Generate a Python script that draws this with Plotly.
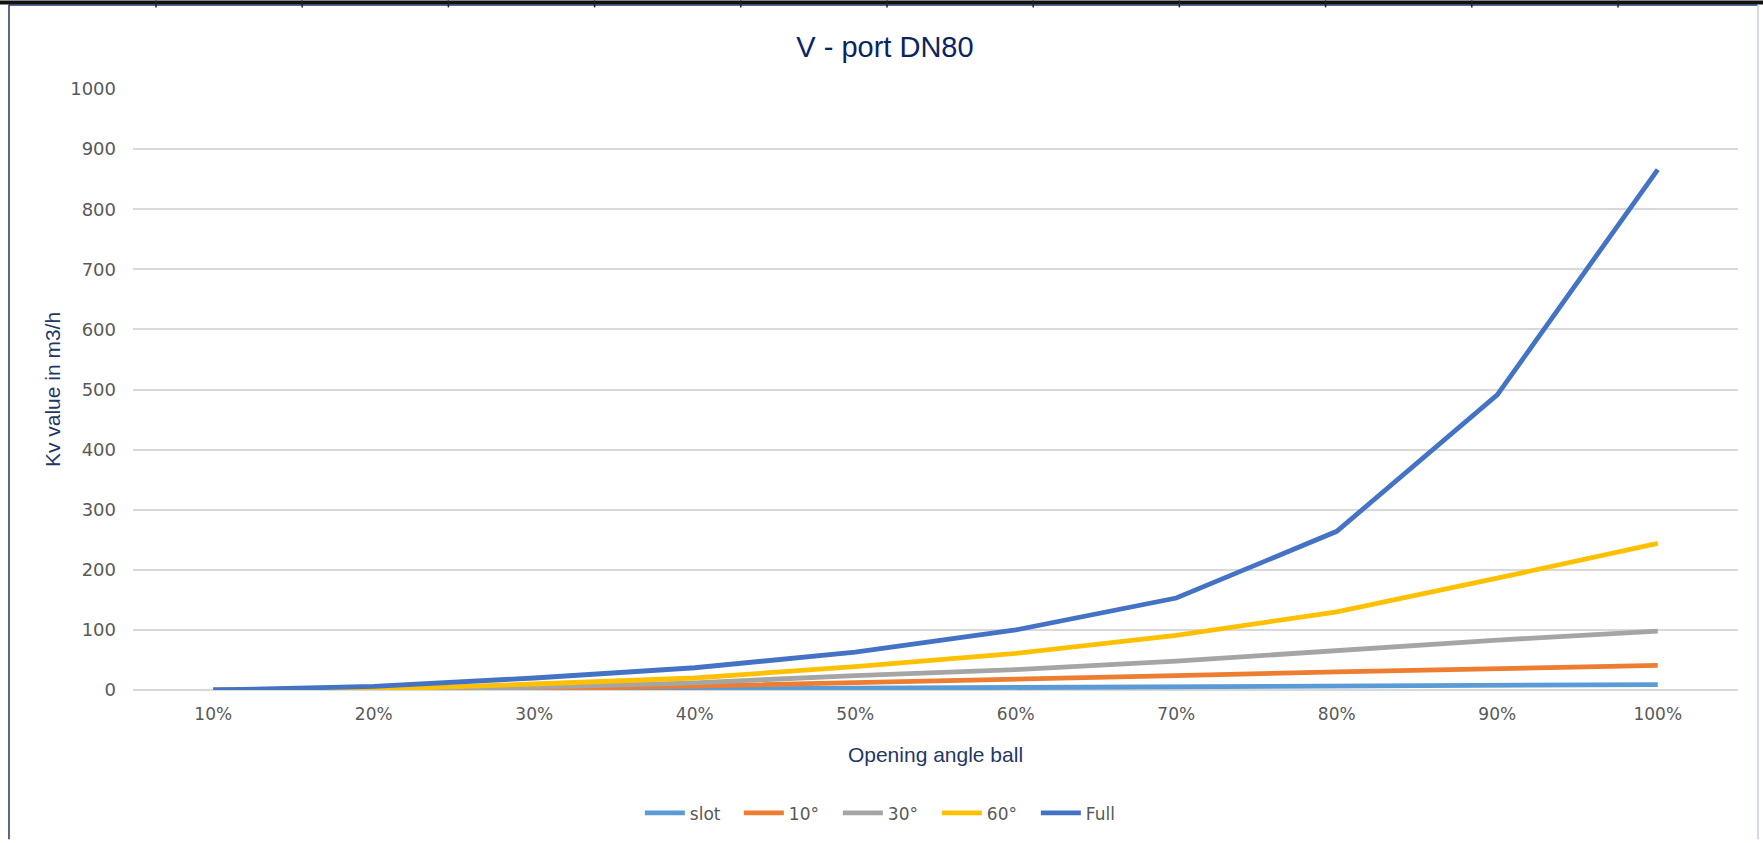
import plotly.graph_objects as go

# Opening angle of the ball (category axis)
opening = ["10%", "20%", "30%", "40%", "50%", "60%", "70%", "80%", "90%", "100%"]

# Kv values in m3/h per V-port variant
kv_slot = [0, 0.2, 1, 2, 3, 4, 5.5, 6.5, 8, 9]
kv_10 = [0, 0.3, 2, 6.5, 13, 18, 24, 30, 36, 41]
kv_30 = [0, 0.5, 4.5, 12, 24, 34, 48, 66, 83, 98]
kv_60 = [0, 1, 10, 20, 39, 61, 91, 130, 186, 244]
kv_full = [0, 6, 20, 37, 63, 100, 153, 264, 491, 866]

series_names = ["slot", "10°", "30°", "60°", "Full"]
series_values = [kv_slot, kv_10, kv_30, kv_60, kv_full]
series_colors = ["#5B9BD5", "#ED7D31", "#A5A5A5", "#FFC000", "#4472C4"]

W, H = 1763, 843
L, R, T, B = 133, 25, 89, 150
NAVY = "#1F3864"
TICK = "#595959"
GRID = "#D9D9D9"


def px_x(px):
    return (px - L) / (W - L - R)


def px_y(py):
    return (H - B - py) / (H - T - B)


fig = go.Figure()
for name, vals, color in zip(series_names, series_values, series_colors):
    fig.add_scatter(
        x=opening,
        y=vals,
        name=name,
        mode="lines",
        line=dict(color=color, width=4.8),
    )

# spreadsheet frame around the chart object
shapes = [
    dict(type="rect", xref="paper", yref="paper",
         x0=px_x(0), x1=px_x(W), y0=px_y(0), y1=px_y(4),
         fillcolor="#111111", line=dict(width=0), layer="above"),
    dict(type="line", xref="paper", yref="paper",
         x0=px_x(9), x1=px_x(9), y0=px_y(4), y1=px_y(H),
         line=dict(color=NAVY, width=1.5)),
    dict(type="line", xref="paper", yref="paper",
         x0=px_x(9), x1=px_x(1758), y0=px_y(4.5), y1=px_y(4.5),
         line=dict(color=NAVY, width=1.5)),
    dict(type="line", xref="paper", yref="paper",
         x0=px_x(1758), x1=px_x(1758), y0=px_y(4), y1=px_y(H),
         line=dict(color="#C5D0E0", width=1.5)),
]
for k in range(1, 12):
    xc = 9.8 + 146.2 * k
    shapes.append(dict(type="line", xref="paper", yref="paper",
                       x0=px_x(xc), x1=px_x(xc), y0=px_y(0), y1=px_y(7),
                       line=dict(color="#222222", width=1.5)))

fig.update_layout(
    width=W,
    height=H,
    margin=dict(l=L, r=R, t=T, b=B),
    paper_bgcolor="white",
    plot_bgcolor="white",
    font=dict(family="DejaVu Sans", color=TICK, size=17),
    title=dict(
        text="V - port DN80",
        x=885 / W, xanchor="center", xref="container",
        y=1 - 47 / H, yanchor="middle", yref="container",
        font=dict(family="Liberation Sans", size=29, color="#0B2560"),
    ),
    legend=dict(
        orientation="h",
        x=0.470, xanchor="center",
        y=px_y(817), yanchor="middle",
        font=dict(family="DejaVu Sans", size=17, color=TICK),
        entrywidth=44, entrywidthmode="pixels",
        itemwidth=40,
    ),
    shapes=shapes,
    showlegend=True,
)
fig.update_xaxes(
    type="category",
    range=[-0.5, len(opening) - 0.5],
    showgrid=False,
    showline=False,
    zeroline=False,
    ticks="",
    ticklabelstandoff=12,
    tickfont=dict(family="DejaVu Sans", size=17, color=TICK),
    title=dict(text="Opening angle ball", standoff=24,
               font=dict(family="Liberation Sans", size=21, color=NAVY)),
)
fig.update_yaxes(
    range=[0, 1000],
    dtick=100,
    showgrid=True,
    gridcolor=GRID,
    gridwidth=1.5,
    zeroline=True,
    zerolinecolor=GRID,
    zerolinewidth=1.5,
    showline=False,
    ticks="",
    ticklabelstandoff=16,
    tickfont=dict(family="DejaVu Sans", size=18, color=TICK),
    title=dict(text="Kv value in m3/h", standoff=3,
               font=dict(family="Liberation Sans", size=21, color=NAVY)),
)

fig.write_html(
    "out.html",
    config={"displayModeBar": False},
    post_script="document.body.style.margin='0';",
)
